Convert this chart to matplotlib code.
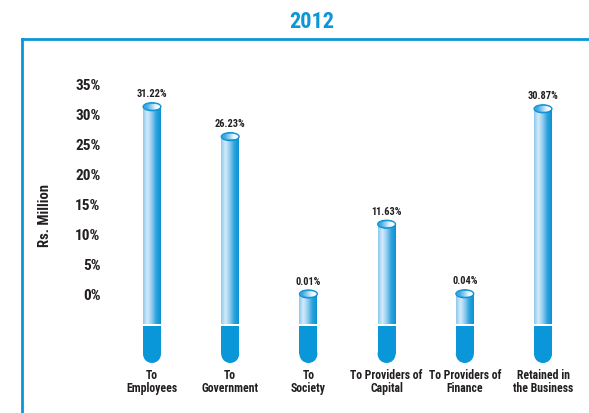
import numpy as np
import matplotlib
matplotlib.use("Agg")
import matplotlib.pyplot as plt
from matplotlib import font_manager
from matplotlib.colors import LinearSegmentedColormap
from matplotlib.patches import Ellipse, Rectangle
from matplotlib.lines import Line2D

# pick a narrow sans if one is around
installed = {f.name for f in font_manager.fontManager.ttflist}
narrow = None
for cand in ["Liberation Sans Narrow", "Roboto Condensed", "Open Sans Condensed", "DejaVu Sans Condensed"]:
    if cand in installed:
        narrow = cand
        break
if narrow:
    plt.rcParams['font.family'] = [narrow, 'Liberation Sans', 'DejaVu Sans']
    cat_size = 8.5
else:
    plt.rcParams['font.family'] = ['Liberation Sans', 'DejaVu Sans']
    cat_size = 7

# value distribution 2012 (share of value added)
categories = ["To\nEmployees", "To\nGovernment", "To\nSociety",
              "To Providers of\nCapital", "To Providers of\nFinance",
              "Retained in\nthe Business"]
shares = [31.22, 26.23, 0.01, 11.63, 0.04, 30.87]
share_labels = ["31.22%", "26.23%", "0.01%", "11.63%", "0.04%", "30.87%"]
yticks = [0, 5, 10, 15, 20, 25, 30, 35]

blue = "#0a97d9"
dark = "#231f20"

fig = plt.figure(figsize=(5.89, 4.14), dpi=100)
ax = fig.add_axes([110/589, 1 - 370/414, 470/589, 315/414])

# horizontal shading for the glass tubes
tube_cmap = LinearSegmentedColormap.from_list(
    "tube", ["#8ec8ee", "#d4ebfa", "#8ccaee", "#2aa2dd", "#0a92d5"], N=256)
grad = np.linspace(0, 1, 256).reshape(1, -1)
cap_cmap = LinearSegmentedColormap.from_list(
    "cap", ["#3aa8e0", "#8fcdf0", "#eef8fe", "#ffffff"], N=256)

w = 0.23          # tube width (data units)
base = -5.0       # where the shaded tube starts
cap_h = 1.35      # height of top ellipse
for i, v in enumerate(shares):
    x0, x1 = i - w/2, i + w/2
    ax.imshow(grad, extent=[x0, x1, base, v], aspect="auto",
              cmap=tube_cmap, zorder=2, interpolation="bilinear")
    # solid bulb under the tube
    ax.add_patch(Rectangle((x0, -10.0), w, 4.75, facecolor=blue,
                           edgecolor="none", zorder=2))
    ax.add_patch(Ellipse((i, -10.0), w, 3.0, facecolor=blue,
                         edgecolor="none", zorder=2))
    # top cap: blue rim with a shaded opening
    ax.add_patch(Ellipse((i, v), w, cap_h, facecolor="#39a7e0",
                         edgecolor="#0a8fd2", lw=0.8, zorder=3))
    inner = Ellipse((i + 0.05*w, v), 0.8*w, 0.7*cap_h,
                    facecolor="none", edgecolor="none", zorder=4)
    ax.add_patch(inner)
    img = ax.imshow(grad, extent=[i - 0.35*w, i + 0.45*w, v - 0.35*cap_h, v + 0.35*cap_h],
                    aspect="auto", cmap=cap_cmap, zorder=4, interpolation="bilinear")
    img.set_clip_path(inner)
    ax.annotate(share_labels[i], (i, v), xytext=(0, 6),
                textcoords="offset points", ha="center", va="bottom",
                fontsize=7.5, fontweight="bold", color=dark)
    ax.text(i, -12.3, categories[i], ha="center", va="top",
            fontsize=cat_size, fontweight="bold", color=dark, linespacing=1.0)

ax.set_xlim(-0.537, 5.473)
ax.set_ylim(-12.5, 40)
ax.set_yticks(yticks)
ax.set_yticklabels([f"{t}%" for t in yticks], fontsize=11,
                   fontweight="bold", color=dark)
ax.tick_params(axis="y", length=0, pad=7)
ax.set_xticks([])
for s in ax.spines.values():
    s.set_visible(False)
ax.patch.set_alpha(0)

fig.text(45/589, 1 - 216/414, "Rs. Million", rotation=90, ha="center",
         va="center", fontsize=10.5, fontweight="bold", color=dark)
fig.text(312/589, 1 - 22/414, "2012", ha="center", va="center",
         fontsize=16, fontweight="bold", color=blue)

# frame lines
fig.add_artist(Line2D([22/589, 1.0], [1 - 40/414, 1 - 40/414],
                      transform=fig.transFigure, color=blue, lw=2))
fig.add_artist(Line2D([22/589, 22/589], [1 - 40/414, 0],
                      transform=fig.transFigure, color=blue, lw=2))

fig.savefig("out.png", dpi=100)
